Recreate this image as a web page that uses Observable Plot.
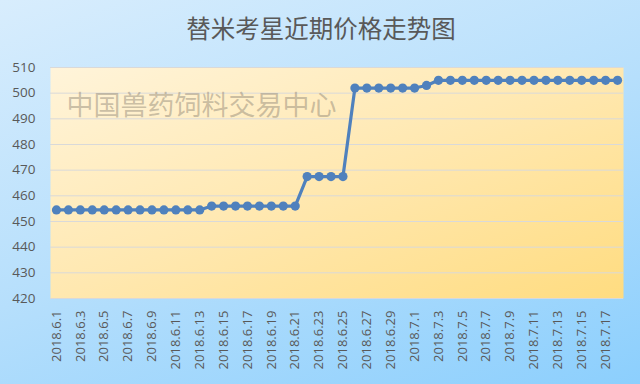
<!DOCTYPE html>
<html>
<head>
<meta charset="utf-8">
<script src="https://cdn.jsdelivr.net/npm/d3@7"></script>
<script src="https://cdn.jsdelivr.net/npm/@observablehq/plot@0.6"></script>
<style>
  html, body { margin: 0; padding: 0; }
  body { width: 640px; height: 384px; overflow: hidden; }
  #chart { width: 640px; height: 384px; background: linear-gradient(160deg, #d8edfd 0%, #b6dffc 50%, #8ccffd 100%); }
</style>
</head>
<body>
<div id="chart"></div>
<script>
const title = "替米考星近期价格走势图";
const watermark = "中国兽药饲料交易中心";
const dates = [
  "2018.6.1","2018.6.2","2018.6.3","2018.6.4","2018.6.5","2018.6.6","2018.6.7","2018.6.8","2018.6.9","2018.6.10",
  "2018.6.11","2018.6.12","2018.6.13","2018.6.14","2018.6.15","2018.6.16","2018.6.17","2018.6.18","2018.6.19","2018.6.20",
  "2018.6.21","2018.6.22","2018.6.23","2018.6.24","2018.6.25","2018.6.26","2018.6.27","2018.6.28","2018.6.29","2018.6.30",
  "2018.7.1","2018.7.2","2018.7.3","2018.7.4","2018.7.5","2018.7.6","2018.7.7","2018.7.8","2018.7.9","2018.7.10",
  "2018.7.11","2018.7.12","2018.7.13","2018.7.14","2018.7.15","2018.7.16","2018.7.17","2018.7.18"
];
const prices = [
  454.5,454.5,454.5,454.5,454.5,454.5,454.5,454.5,454.5,454.5,
  454.5,454.5,454.5,456,456,456,456,456,456,456,
  456,467.5,467.5,467.5,467.5,502,502,502,502,502,
  502,503,505,505,505,505,505,505,505,505,
  505,505,505,505,505,505,505,505
];
const xTickLabels = dates.filter((d, i) => i % 2 === 0);
const yTicks = [420,430,440,450,460,470,480,490,500,510];

const data = dates.map((d, i) => ({date: d, price: prices[i]}));

const chart = Plot.plot({
  width: 640,
  height: 384,
  marginTop: 67,
  marginLeft: 50,
  marginRight: 17,
  marginBottom: 86,
  style: {background: "transparent", fontFamily: "'Open Sans', 'Noto Sans', sans-serif", color: "#595959"},
  x: {type: "point", domain: dates, padding: 0.5, label: null},
  y: {domain: [420, 510], label: null},
  marks: [
    Plot.frame({fill: "url(#plotgrad)", stroke: null}),
    Plot.gridY(yTicks, {stroke: "#d9d9d9", strokeOpacity: 1, strokeWidth: 1}),
    Plot.axisY({ticks: yTicks, tickSize: 0, tickPadding: 15, fontSize: 13.5, fill: "#595959"}),
    Plot.axisX({ticks: xTickLabels, tickSize: 0, tickRotate: -90, tickPadding: 12, fontSize: 13, fill: "#595959", textAnchor: "end"}),
    Plot.text([watermark], {frameAnchor: "top-left", dx: 16, dy: 28, text: d => d, fontSize: 27, fill: "#8a8070", fillOpacity: 0.45, textAnchor: "start", fontFamily: "'Noto Sans CJK SC', sans-serif"}),
    Plot.line(data, {x: "date", y: "price", stroke: "#4f81bd", strokeWidth: 3.2}),
    Plot.dot(data, {x: "date", y: "price", r: 4.6, fill: "#4f81bd", stroke: null}),
    Plot.text([title], {frameAnchor: "top", dx: -16, dy: -47, text: d => d, fontSize: 24.5, fill: "#595959", fontFamily: "'Noto Sans CJK SC', sans-serif"})
  ]
});

const svgNS = "http://www.w3.org/2000/svg";
const defs = document.createElementNS(svgNS, "defs");
defs.innerHTML = `<linearGradient id="plotgrad" x1="0" y1="0" x2="1" y2="1">
  <stop offset="0" stop-color="#fff4da"/>
  <stop offset="0.5" stop-color="#ffe8b0"/>
  <stop offset="1" stop-color="#ffdc80"/>
</linearGradient>`;
chart.insertBefore(defs, chart.firstChild);
document.getElementById("chart").appendChild(chart);
</script>
</body>
</html>
